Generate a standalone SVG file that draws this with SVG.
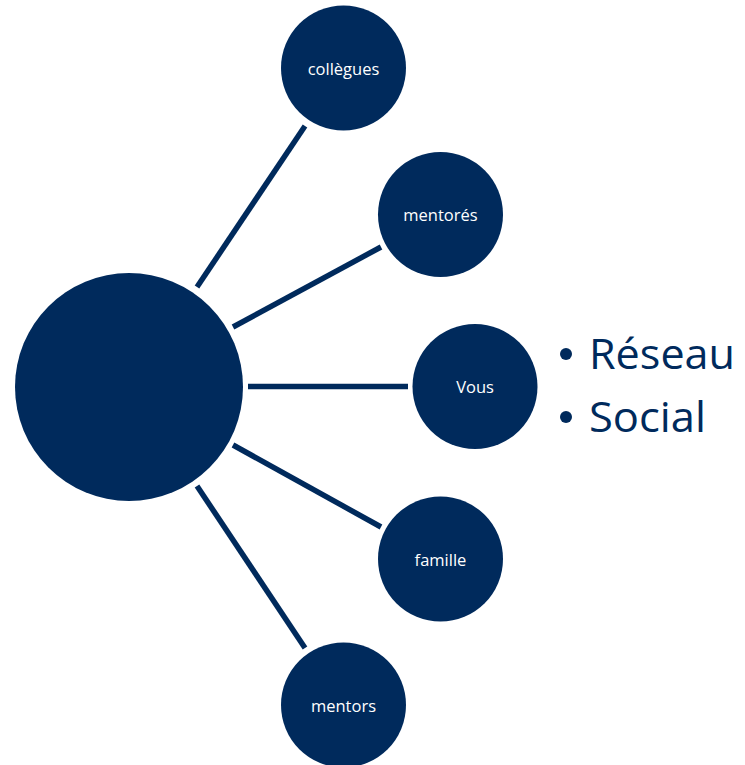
<svg xmlns="http://www.w3.org/2000/svg" width="745" height="765" viewBox="0 0 745 765">
<style>
.n{fill:#002a5c}
.l{fill:#fff;font-family:"Open Sans","Noto Sans",sans-serif;font-size:16.5px;text-anchor:middle;dominant-baseline:central}
.c line{stroke:#002a5c;stroke-width:5.5}
.b{fill:#002a5c;font-family:"Open Sans","Noto Sans",sans-serif;font-size:42px}
</style>
<g id="connectors" class="c">
<line x1="197" y1="287" x2="305" y2="126"/>
<line x1="233" y1="327" x2="381" y2="247"/>
<line x1="248" y1="386.5" x2="408" y2="386.5"/>
<line x1="233" y1="445" x2="381" y2="527"/>
<line x1="197" y1="486" x2="305" y2="648"/>
</g>
<g id="center"><circle class="n" cx="129" cy="387" r="114"/></g>
<g id="collegues"><circle class="n" cx="343.5" cy="68" r="62.5"/><text class="l" x="343.5" y="68">collègues</text></g>
<g id="mentores"><circle class="n" cx="440.5" cy="214.5" r="62.5"/><text class="l" x="440.5" y="214.5">mentorés</text></g>
<g id="vous"><circle class="n" cx="475" cy="386.5" r="62.5"/><text class="l" x="475" y="386.5">Vous</text></g>
<g id="famille"><circle class="n" cx="440.5" cy="559" r="62.5"/><text class="l" x="440.5" y="559">famille</text></g>
<g id="mentors"><circle class="n" cx="343.5" cy="705" r="62.5"/><text class="l" x="343.5" y="705">mentors</text></g>
<g id="bullets">
<circle class="n" cx="566" cy="354" r="6"/>
<text class="b" x="589" y="369" textLength="146" lengthAdjust="spacingAndGlyphs">Réseau</text>
<circle class="n" cx="566" cy="417" r="6"/>
<text class="b" x="589" y="432" textLength="117" lengthAdjust="spacingAndGlyphs">Social</text>
</g>
</svg>
